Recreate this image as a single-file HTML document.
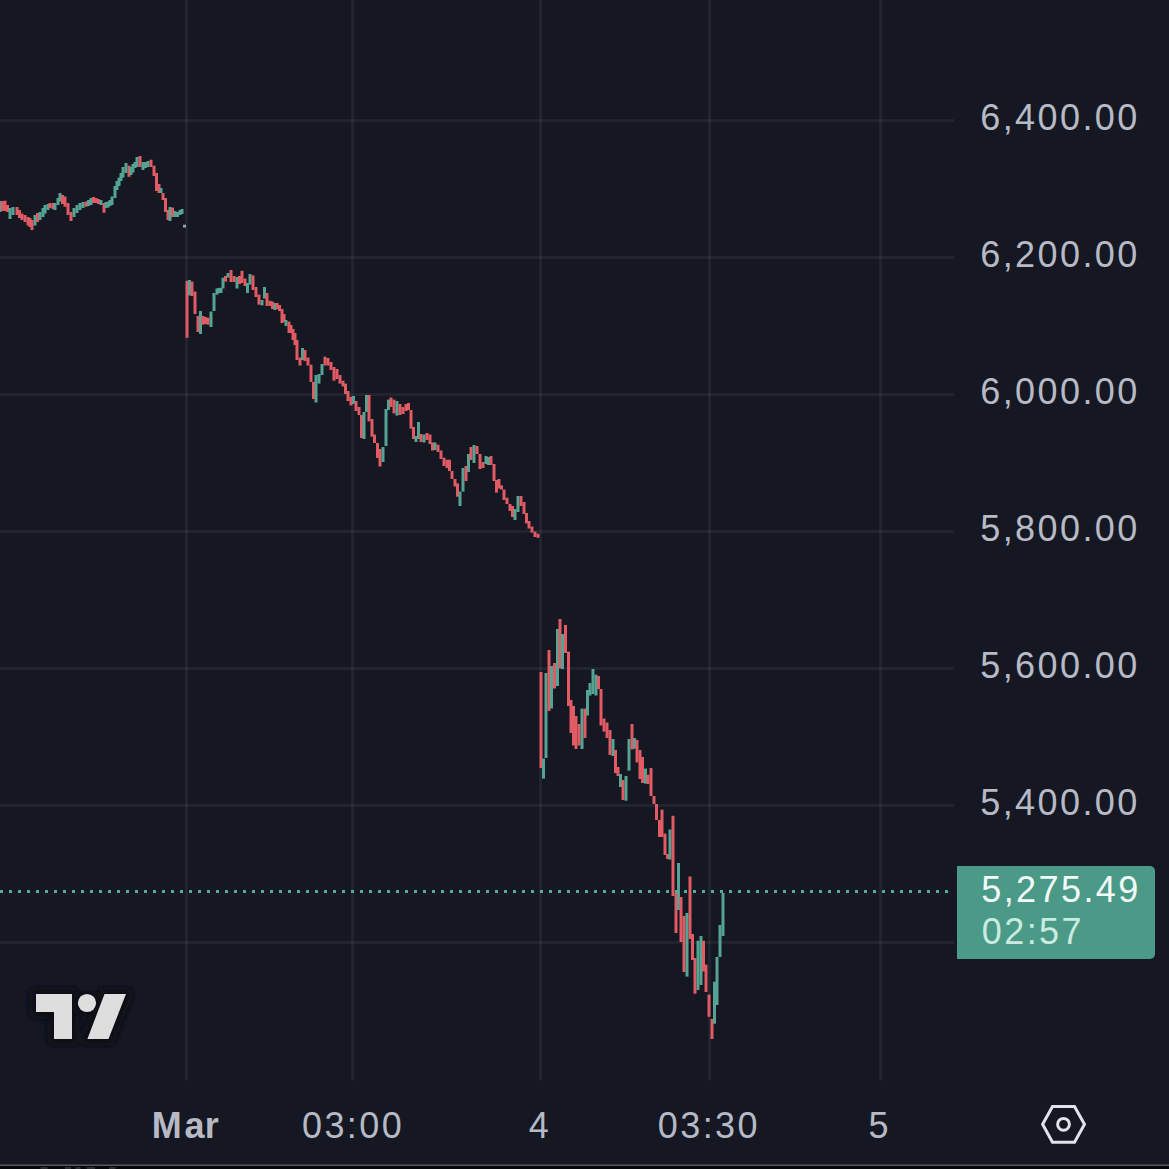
<!DOCTYPE html>
<html><head><meta charset="utf-8"><style>
html,body{margin:0;padding:0;background:#151823;width:1169px;height:1169px;overflow:hidden}
svg{display:block}
.t{font-family:"Liberation Sans",sans-serif;font-size:36px;letter-spacing:2.4px;fill:#b7bac5}
.b{font-weight:bold}
</style></head><body>
<svg width="1169" height="1169" viewBox="0 0 1169 1169">
<defs><filter id="bl" x="-20%" y="-20%" width="140%" height="140%"><feGaussianBlur stdDeviation="3"/></filter></defs>
<rect width="1169" height="1169" fill="#151823"/>
<rect x="185.2" y="0" width="2.6" height="1080.5" fill="#fff" fill-opacity="0.062"/>
<rect x="351.2" y="0" width="2.6" height="1080.5" fill="#fff" fill-opacity="0.062"/>
<rect x="539.2" y="0" width="2.6" height="1080.5" fill="#fff" fill-opacity="0.062"/>
<rect x="708.2" y="0" width="2.6" height="1080.5" fill="#fff" fill-opacity="0.062"/>
<rect x="879.2" y="0" width="2.6" height="1080.5" fill="#fff" fill-opacity="0.062"/>
<rect x="0" y="119.2" width="954" height="2.6" fill="#fff" fill-opacity="0.062"/>
<rect x="0" y="256.2" width="954" height="2.6" fill="#fff" fill-opacity="0.062"/>
<rect x="0" y="393.2" width="954" height="2.6" fill="#fff" fill-opacity="0.062"/>
<rect x="0" y="530.2" width="954" height="2.6" fill="#fff" fill-opacity="0.062"/>
<rect x="0" y="667.2" width="954" height="2.6" fill="#fff" fill-opacity="0.062"/>
<rect x="0" y="804.2" width="954" height="2.6" fill="#fff" fill-opacity="0.062"/>
<rect x="0" y="941.2" width="954" height="2.6" fill="#fff" fill-opacity="0.062"/>
<rect x="-1.50" y="201.0" width="3.0" height="11.0" fill="#55a392"/>
<rect x="1.00" y="201.0" width="3.0" height="10.0" fill="#e05b63"/>
<rect x="3.50" y="200.7" width="3.0" height="10.3" fill="#e05b63"/>
<rect x="6.00" y="205.0" width="3.0" height="7.0" fill="#e05b63"/>
<rect x="8.50" y="208.0" width="3.0" height="11.0" fill="#55a392"/>
<rect x="11.50" y="207.0" width="3.0" height="8.0" fill="#55a392"/>
<rect x="15.50" y="207.0" width="3.0" height="8.0" fill="#e05b63"/>
<rect x="18.00" y="210.0" width="3.0" height="8.0" fill="#e05b63"/>
<rect x="20.50" y="213.6" width="3.0" height="6.4" fill="#e05b63"/>
<rect x="23.50" y="215.0" width="3.0" height="7.0" fill="#e05b63"/>
<rect x="26.50" y="217.0" width="3.0" height="8.5" fill="#e05b63"/>
<rect x="28.50" y="218.0" width="3.0" height="9.0" fill="#e05b63"/>
<rect x="30.50" y="220.0" width="3.0" height="10.0" fill="#e05b63"/>
<rect x="33.50" y="215.0" width="3.0" height="10.5" fill="#55a392"/>
<rect x="36.00" y="213.0" width="3.0" height="9.0" fill="#e05b63"/>
<rect x="38.50" y="212.0" width="3.0" height="8.0" fill="#55a392"/>
<rect x="41.50" y="208.0" width="3.0" height="9.0" fill="#55a392"/>
<rect x="43.50" y="205.0" width="3.0" height="8.6" fill="#55a392"/>
<rect x="46.50" y="204.0" width="3.0" height="6.0" fill="#55a392"/>
<rect x="48.50" y="203.0" width="3.0" height="5.0" fill="#e05b63"/>
<rect x="51.50" y="203.0" width="3.0" height="6.0" fill="#e05b63"/>
<rect x="53.50" y="203.0" width="3.0" height="7.0" fill="#55a392"/>
<rect x="56.50" y="198.0" width="3.0" height="7.0" fill="#55a392"/>
<rect x="58.50" y="193.0" width="3.0" height="8.6" fill="#55a392"/>
<rect x="61.00" y="195.0" width="3.0" height="9.0" fill="#e05b63"/>
<rect x="63.50" y="196.5" width="3.0" height="10.2" fill="#e05b63"/>
<rect x="66.50" y="203.0" width="3.0" height="12.0" fill="#e05b63"/>
<rect x="69.50" y="212.0" width="3.0" height="9.0" fill="#e05b63"/>
<rect x="72.50" y="208.0" width="3.0" height="9.0" fill="#55a392"/>
<rect x="75.50" y="205.0" width="3.0" height="8.0" fill="#55a392"/>
<rect x="78.50" y="203.0" width="3.0" height="7.0" fill="#55a392"/>
<rect x="81.50" y="202.0" width="3.0" height="6.0" fill="#55a392"/>
<rect x="84.50" y="201.6" width="3.0" height="5.1" fill="#e05b63"/>
<rect x="87.00" y="200.0" width="3.0" height="6.0" fill="#55a392"/>
<rect x="89.50" y="198.0" width="3.0" height="7.0" fill="#55a392"/>
<rect x="92.00" y="197.0" width="3.0" height="6.0" fill="#e05b63"/>
<rect x="94.50" y="198.0" width="3.0" height="5.0" fill="#e05b63"/>
<rect x="97.00" y="199.0" width="3.0" height="5.0" fill="#e05b63"/>
<rect x="99.50" y="200.0" width="3.0" height="5.0" fill="#55a392"/>
<rect x="102.50" y="203.0" width="3.0" height="9.7" fill="#e05b63"/>
<rect x="104.50" y="202.0" width="3.0" height="6.0" fill="#55a392"/>
<rect x="106.50" y="201.6" width="3.0" height="6.0" fill="#55a392"/>
<rect x="108.50" y="200.0" width="3.0" height="6.0" fill="#55a392"/>
<rect x="110.50" y="196.5" width="3.0" height="8.5" fill="#55a392"/>
<rect x="113.50" y="186.0" width="3.0" height="12.0" fill="#55a392"/>
<rect x="115.50" y="181.0" width="3.0" height="9.0" fill="#55a392"/>
<rect x="117.50" y="177.6" width="3.0" height="8.4" fill="#55a392"/>
<rect x="119.50" y="173.0" width="3.0" height="8.0" fill="#55a392"/>
<rect x="121.50" y="167.0" width="3.0" height="10.6" fill="#55a392"/>
<rect x="124.50" y="163.0" width="3.0" height="10.0" fill="#55a392"/>
<rect x="127.50" y="165.7" width="3.0" height="11.1" fill="#e05b63"/>
<rect x="129.50" y="167.0" width="3.0" height="8.0" fill="#55a392"/>
<rect x="131.50" y="164.0" width="3.0" height="8.5" fill="#55a392"/>
<rect x="133.50" y="162.0" width="3.0" height="6.0" fill="#55a392"/>
<rect x="135.50" y="157.0" width="3.0" height="10.0" fill="#55a392"/>
<rect x="138.50" y="156.0" width="3.0" height="11.0" fill="#e05b63"/>
<rect x="141.50" y="162.0" width="3.0" height="8.0" fill="#55a392"/>
<rect x="144.00" y="162.0" width="3.0" height="6.0" fill="#55a392"/>
<rect x="146.50" y="161.0" width="3.0" height="6.0" fill="#55a392"/>
<rect x="149.50" y="159.7" width="3.0" height="7.3" fill="#e05b63"/>
<rect x="152.50" y="165.7" width="3.0" height="10.3" fill="#e05b63"/>
<rect x="155.00" y="173.0" width="3.0" height="18.0" fill="#e05b63"/>
<rect x="157.50" y="184.0" width="3.0" height="9.0" fill="#e05b63"/>
<rect x="159.50" y="188.0" width="3.0" height="5.0" fill="#55a392"/>
<rect x="161.50" y="193.0" width="3.0" height="7.0" fill="#e05b63"/>
<rect x="164.00" y="198.0" width="3.0" height="14.0" fill="#e05b63"/>
<rect x="166.50" y="210.0" width="3.0" height="10.0" fill="#e05b63"/>
<rect x="168.50" y="207.0" width="3.0" height="14.0" fill="#55a392"/>
<rect x="171.00" y="207.6" width="3.0" height="9.4" fill="#e05b63"/>
<rect x="173.50" y="211.0" width="3.0" height="6.0" fill="#55a392"/>
<rect x="176.00" y="212.0" width="3.0" height="5.0" fill="#55a392"/>
<rect x="178.50" y="210.0" width="3.0" height="5.0" fill="#55a392"/>
<rect x="180.50" y="209.0" width="3.0" height="5.0" fill="#55a392"/>
<rect x="183.00" y="224.7" width="3.0" height="2.8" fill="#9aa3a6"/>
<rect x="185.50" y="280.8" width="3.0" height="57.0" fill="#e05b63"/>
<rect x="188.00" y="280.0" width="3.0" height="15.4" fill="#55a392"/>
<rect x="190.50" y="281.6" width="3.0" height="14.4" fill="#e05b63"/>
<rect x="193.50" y="291.6" width="3.0" height="22.4" fill="#e05b63"/>
<rect x="196.50" y="316.0" width="3.0" height="16.0" fill="#e05b63"/>
<rect x="199.00" y="311.0" width="3.0" height="23.0" fill="#55a392"/>
<rect x="201.50" y="316.0" width="3.0" height="8.7" fill="#e05b63"/>
<rect x="204.00" y="317.0" width="3.0" height="7.0" fill="#e05b63"/>
<rect x="206.50" y="317.7" width="3.0" height="7.0" fill="#e05b63"/>
<rect x="209.50" y="311.6" width="3.0" height="15.4" fill="#55a392"/>
<rect x="212.50" y="293.0" width="3.0" height="18.0" fill="#55a392"/>
<rect x="215.50" y="288.5" width="3.0" height="6.1" fill="#55a392"/>
<rect x="217.50" y="288.0" width="3.0" height="5.0" fill="#55a392"/>
<rect x="219.50" y="287.7" width="3.0" height="5.3" fill="#55a392"/>
<rect x="221.50" y="277.7" width="3.0" height="10.8" fill="#55a392"/>
<rect x="224.00" y="276.0" width="3.0" height="5.6" fill="#e05b63"/>
<rect x="226.50" y="273.0" width="3.0" height="4.7" fill="#55a392"/>
<rect x="229.50" y="270.0" width="3.0" height="12.0" fill="#e05b63"/>
<rect x="232.50" y="276.0" width="3.0" height="6.0" fill="#e05b63"/>
<rect x="235.50" y="277.0" width="3.0" height="11.5" fill="#55a392"/>
<rect x="238.00" y="276.0" width="3.0" height="8.0" fill="#e05b63"/>
<rect x="240.50" y="270.8" width="3.0" height="12.2" fill="#e05b63"/>
<rect x="243.50" y="278.5" width="3.0" height="7.5" fill="#e05b63"/>
<rect x="246.00" y="283.0" width="3.0" height="10.0" fill="#55a392"/>
<rect x="248.50" y="274.0" width="3.0" height="10.6" fill="#55a392"/>
<rect x="251.50" y="275.4" width="3.0" height="14.6" fill="#e05b63"/>
<rect x="254.50" y="287.0" width="3.0" height="10.0" fill="#e05b63"/>
<rect x="257.50" y="294.6" width="3.0" height="10.1" fill="#e05b63"/>
<rect x="260.50" y="300.0" width="3.0" height="5.4" fill="#55a392"/>
<rect x="263.00" y="287.0" width="3.0" height="11.5" fill="#55a392"/>
<rect x="265.50" y="293.0" width="3.0" height="13.0" fill="#e05b63"/>
<rect x="268.50" y="300.8" width="3.0" height="5.2" fill="#e05b63"/>
<rect x="271.00" y="301.6" width="3.0" height="7.4" fill="#e05b63"/>
<rect x="273.50" y="303.0" width="3.0" height="7.0" fill="#55a392"/>
<rect x="275.50" y="303.0" width="3.0" height="6.0" fill="#e05b63"/>
<rect x="278.00" y="305.0" width="3.0" height="6.0" fill="#e05b63"/>
<rect x="280.50" y="309.0" width="3.0" height="14.0" fill="#e05b63"/>
<rect x="282.50" y="314.0" width="3.0" height="8.0" fill="#e05b63"/>
<rect x="284.50" y="320.0" width="3.0" height="6.0" fill="#55a392"/>
<rect x="287.50" y="321.6" width="3.0" height="11.4" fill="#e05b63"/>
<rect x="289.50" y="325.0" width="3.0" height="8.0" fill="#e05b63"/>
<rect x="291.50" y="329.0" width="3.0" height="11.0" fill="#e05b63"/>
<rect x="293.50" y="333.0" width="3.0" height="12.0" fill="#e05b63"/>
<rect x="295.50" y="340.0" width="3.0" height="20.0" fill="#e05b63"/>
<rect x="298.50" y="357.5" width="3.0" height="8.0" fill="#e05b63"/>
<rect x="301.00" y="348.0" width="3.0" height="12.0" fill="#55a392"/>
<rect x="303.50" y="350.0" width="3.0" height="11.0" fill="#e05b63"/>
<rect x="306.50" y="357.5" width="3.0" height="8.0" fill="#e05b63"/>
<rect x="309.50" y="364.7" width="3.0" height="17.3" fill="#e05b63"/>
<rect x="312.00" y="382.0" width="3.0" height="17.0" fill="#e05b63"/>
<rect x="314.50" y="375.0" width="3.0" height="27.5" fill="#55a392"/>
<rect x="317.50" y="374.0" width="3.0" height="9.6" fill="#55a392"/>
<rect x="320.50" y="364.0" width="3.0" height="11.0" fill="#55a392"/>
<rect x="323.50" y="356.7" width="3.0" height="8.8" fill="#e05b63"/>
<rect x="326.50" y="358.0" width="3.0" height="7.5" fill="#e05b63"/>
<rect x="329.50" y="362.0" width="3.0" height="8.0" fill="#e05b63"/>
<rect x="332.50" y="367.0" width="3.0" height="13.7" fill="#e05b63"/>
<rect x="335.50" y="369.0" width="3.0" height="10.0" fill="#e05b63"/>
<rect x="338.50" y="375.0" width="3.0" height="8.6" fill="#e05b63"/>
<rect x="341.50" y="380.7" width="3.0" height="5.8" fill="#e05b63"/>
<rect x="344.00" y="383.6" width="3.0" height="10.4" fill="#e05b63"/>
<rect x="346.50" y="391.0" width="3.0" height="10.0" fill="#e05b63"/>
<rect x="349.50" y="396.7" width="3.0" height="8.7" fill="#e05b63"/>
<rect x="352.00" y="396.0" width="3.0" height="8.0" fill="#55a392"/>
<rect x="354.50" y="401.0" width="3.0" height="10.0" fill="#e05b63"/>
<rect x="357.50" y="407.0" width="3.0" height="8.0" fill="#e05b63"/>
<rect x="360.00" y="415.0" width="3.0" height="23.0" fill="#e05b63"/>
<rect x="362.50" y="412.0" width="3.0" height="27.0" fill="#55a392"/>
<rect x="365.00" y="395.0" width="3.0" height="17.0" fill="#55a392"/>
<rect x="367.50" y="395.0" width="3.0" height="26.4" fill="#e05b63"/>
<rect x="370.50" y="419.0" width="3.0" height="17.7" fill="#e05b63"/>
<rect x="373.00" y="434.5" width="3.0" height="8.5" fill="#e05b63"/>
<rect x="376.00" y="443.0" width="3.0" height="15.0" fill="#e05b63"/>
<rect x="378.50" y="449.0" width="3.0" height="17.5" fill="#e05b63"/>
<rect x="381.50" y="447.0" width="3.0" height="15.0" fill="#55a392"/>
<rect x="384.50" y="409.0" width="3.0" height="37.0" fill="#55a392"/>
<rect x="387.00" y="399.6" width="3.0" height="10.4" fill="#55a392"/>
<rect x="389.50" y="397.5" width="3.0" height="9.5" fill="#e05b63"/>
<rect x="392.50" y="399.6" width="3.0" height="13.8" fill="#e05b63"/>
<rect x="395.50" y="401.0" width="3.0" height="14.6" fill="#55a392"/>
<rect x="398.50" y="404.0" width="3.0" height="11.0" fill="#e05b63"/>
<rect x="401.50" y="407.0" width="3.0" height="7.0" fill="#e05b63"/>
<rect x="404.50" y="404.0" width="3.0" height="7.0" fill="#e05b63"/>
<rect x="407.00" y="403.0" width="3.0" height="7.0" fill="#e05b63"/>
<rect x="409.50" y="410.0" width="3.0" height="18.7" fill="#e05b63"/>
<rect x="412.00" y="427.0" width="3.0" height="12.0" fill="#e05b63"/>
<rect x="414.50" y="436.0" width="3.0" height="6.0" fill="#55a392"/>
<rect x="417.00" y="422.0" width="3.0" height="17.0" fill="#55a392"/>
<rect x="419.50" y="434.0" width="3.0" height="8.0" fill="#e05b63"/>
<rect x="422.50" y="434.5" width="3.0" height="8.0" fill="#55a392"/>
<rect x="425.50" y="433.0" width="3.0" height="7.0" fill="#e05b63"/>
<rect x="428.50" y="434.5" width="3.0" height="9.5" fill="#e05b63"/>
<rect x="431.00" y="442.5" width="3.0" height="8.0" fill="#e05b63"/>
<rect x="433.50" y="442.5" width="3.0" height="7.5" fill="#55a392"/>
<rect x="436.50" y="444.7" width="3.0" height="7.3" fill="#e05b63"/>
<rect x="439.50" y="450.5" width="3.0" height="8.5" fill="#e05b63"/>
<rect x="442.50" y="457.7" width="3.0" height="8.3" fill="#e05b63"/>
<rect x="445.50" y="459.8" width="3.0" height="8.2" fill="#e05b63"/>
<rect x="448.00" y="459.8" width="3.0" height="11.2" fill="#e05b63"/>
<rect x="450.50" y="471.0" width="3.0" height="8.0" fill="#e05b63"/>
<rect x="453.50" y="479.0" width="3.0" height="7.5" fill="#e05b63"/>
<rect x="456.00" y="483.4" width="3.0" height="13.3" fill="#e05b63"/>
<rect x="458.50" y="491.6" width="3.0" height="14.4" fill="#55a392"/>
<rect x="461.50" y="468.0" width="3.0" height="23.6" fill="#55a392"/>
<rect x="464.50" y="466.0" width="3.0" height="15.0" fill="#e05b63"/>
<rect x="467.00" y="454.0" width="3.0" height="18.0" fill="#55a392"/>
<rect x="469.50" y="447.0" width="3.0" height="13.0" fill="#e05b63"/>
<rect x="472.50" y="445.0" width="3.0" height="18.0" fill="#55a392"/>
<rect x="475.50" y="446.0" width="3.0" height="8.0" fill="#e05b63"/>
<rect x="478.50" y="454.0" width="3.0" height="15.0" fill="#e05b63"/>
<rect x="481.50" y="462.0" width="3.0" height="6.0" fill="#e05b63"/>
<rect x="484.50" y="456.0" width="3.0" height="8.0" fill="#55a392"/>
<rect x="487.00" y="457.0" width="3.0" height="8.0" fill="#55a392"/>
<rect x="489.50" y="456.0" width="3.0" height="9.0" fill="#e05b63"/>
<rect x="492.50" y="464.0" width="3.0" height="17.0" fill="#e05b63"/>
<rect x="495.00" y="480.0" width="3.0" height="12.6" fill="#e05b63"/>
<rect x="497.50" y="479.0" width="3.0" height="9.5" fill="#e05b63"/>
<rect x="500.00" y="485.4" width="3.0" height="4.1" fill="#e05b63"/>
<rect x="502.50" y="489.5" width="3.0" height="10.5" fill="#e05b63"/>
<rect x="505.50" y="497.7" width="3.0" height="6.3" fill="#e05b63"/>
<rect x="508.50" y="504.0" width="3.0" height="7.0" fill="#e05b63"/>
<rect x="511.00" y="506.0" width="3.0" height="11.0" fill="#e05b63"/>
<rect x="513.50" y="509.0" width="3.0" height="11.0" fill="#55a392"/>
<rect x="516.50" y="496.0" width="3.0" height="16.0" fill="#55a392"/>
<rect x="519.50" y="496.0" width="3.0" height="10.0" fill="#e05b63"/>
<rect x="522.50" y="502.0" width="3.0" height="12.0" fill="#e05b63"/>
<rect x="525.00" y="513.0" width="3.0" height="10.4" fill="#e05b63"/>
<rect x="527.50" y="521.0" width="3.0" height="7.5" fill="#e05b63"/>
<rect x="530.50" y="526.5" width="3.0" height="6.1" fill="#e05b63"/>
<rect x="533.50" y="531.6" width="3.0" height="5.4" fill="#e05b63"/>
<rect x="536.50" y="533.7" width="3.0" height="4.1" fill="#e05b63"/>
<rect x="539.50" y="672.0" width="3.0" height="96.0" fill="#e05b63"/>
<rect x="542.00" y="758.6" width="3.0" height="20.0" fill="#55a392"/>
<rect x="544.50" y="673.0" width="3.0" height="85.0" fill="#55a392"/>
<rect x="547.50" y="650.0" width="3.0" height="61.0" fill="#e05b63"/>
<rect x="550.00" y="666.0" width="3.0" height="42.5" fill="#55a392"/>
<rect x="553.00" y="663.0" width="3.0" height="25.5" fill="#e05b63"/>
<rect x="556.00" y="629.0" width="3.0" height="57.0" fill="#55a392"/>
<rect x="558.50" y="619.0" width="3.0" height="49.5" fill="#e05b63"/>
<rect x="561.00" y="634.0" width="3.0" height="35.0" fill="#55a392"/>
<rect x="564.00" y="625.0" width="3.0" height="28.0" fill="#e05b63"/>
<rect x="567.00" y="651.6" width="3.0" height="54.4" fill="#e05b63"/>
<rect x="569.50" y="700.0" width="3.0" height="33.0" fill="#e05b63"/>
<rect x="572.00" y="706.0" width="3.0" height="39.5" fill="#e05b63"/>
<rect x="574.50" y="716.0" width="3.0" height="33.0" fill="#e05b63"/>
<rect x="577.50" y="724.0" width="3.0" height="21.5" fill="#e05b63"/>
<rect x="580.50" y="708.6" width="3.0" height="40.4" fill="#55a392"/>
<rect x="583.50" y="708.6" width="3.0" height="29.4" fill="#e05b63"/>
<rect x="586.00" y="690.0" width="3.0" height="25.5" fill="#55a392"/>
<rect x="588.50" y="683.0" width="3.0" height="12.5" fill="#55a392"/>
<rect x="591.50" y="669.0" width="3.0" height="25.0" fill="#55a392"/>
<rect x="594.50" y="674.7" width="3.0" height="20.8" fill="#55a392"/>
<rect x="597.00" y="676.0" width="3.0" height="13.0" fill="#e05b63"/>
<rect x="599.50" y="689.0" width="3.0" height="36.5" fill="#e05b63"/>
<rect x="602.50" y="718.6" width="3.0" height="13.0" fill="#e05b63"/>
<rect x="605.50" y="722.5" width="3.0" height="15.5" fill="#e05b63"/>
<rect x="608.50" y="730.0" width="3.0" height="25.0" fill="#e05b63"/>
<rect x="611.50" y="739.0" width="3.0" height="17.0" fill="#55a392"/>
<rect x="614.00" y="750.0" width="3.0" height="23.0" fill="#e05b63"/>
<rect x="616.50" y="767.0" width="3.0" height="9.0" fill="#e05b63"/>
<rect x="619.00" y="774.0" width="3.0" height="13.0" fill="#55a392"/>
<rect x="621.50" y="780.0" width="3.0" height="20.0" fill="#e05b63"/>
<rect x="624.50" y="776.0" width="3.0" height="24.7" fill="#55a392"/>
<rect x="627.50" y="739.0" width="3.0" height="31.6" fill="#55a392"/>
<rect x="630.50" y="724.0" width="3.0" height="25.4" fill="#e05b63"/>
<rect x="633.00" y="738.0" width="3.0" height="10.7" fill="#55a392"/>
<rect x="635.50" y="740.0" width="3.0" height="22.4" fill="#e05b63"/>
<rect x="638.50" y="750.0" width="3.0" height="29.0" fill="#e05b63"/>
<rect x="641.00" y="757.0" width="3.0" height="26.0" fill="#e05b63"/>
<rect x="644.00" y="768.6" width="3.0" height="15.0" fill="#55a392"/>
<rect x="646.50" y="774.7" width="3.0" height="9.3" fill="#e05b63"/>
<rect x="649.50" y="768.0" width="3.0" height="28.0" fill="#e05b63"/>
<rect x="652.50" y="796.0" width="3.0" height="8.0" fill="#e05b63"/>
<rect x="655.00" y="804.0" width="3.0" height="16.0" fill="#e05b63"/>
<rect x="658.00" y="820.0" width="3.0" height="17.0" fill="#e05b63"/>
<rect x="660.50" y="809.6" width="3.0" height="27.4" fill="#e05b63"/>
<rect x="663.50" y="833.6" width="3.0" height="21.4" fill="#e05b63"/>
<rect x="666.00" y="854.0" width="3.0" height="5.0" fill="#e05b63"/>
<rect x="668.50" y="829.5" width="3.0" height="30.1" fill="#55a392"/>
<rect x="671.50" y="815.8" width="3.0" height="80.2" fill="#e05b63"/>
<rect x="674.50" y="893.0" width="3.0" height="40.0" fill="#e05b63"/>
<rect x="677.00" y="863.0" width="3.0" height="47.0" fill="#55a392"/>
<rect x="679.50" y="897.0" width="3.0" height="45.0" fill="#e05b63"/>
<rect x="682.50" y="916.0" width="3.0" height="56.0" fill="#e05b63"/>
<rect x="685.50" y="913.0" width="3.0" height="63.6" fill="#55a392"/>
<rect x="688.50" y="876.5" width="3.0" height="62.5" fill="#e05b63"/>
<rect x="691.00" y="934.0" width="3.0" height="26.0" fill="#e05b63"/>
<rect x="693.50" y="958.0" width="3.0" height="35.7" fill="#e05b63"/>
<rect x="696.50" y="940.7" width="3.0" height="49.3" fill="#55a392"/>
<rect x="699.50" y="936.0" width="3.0" height="49.0" fill="#55a392"/>
<rect x="702.00" y="940.7" width="3.0" height="30.8" fill="#e05b63"/>
<rect x="704.50" y="964.6" width="3.0" height="27.4" fill="#e05b63"/>
<rect x="707.50" y="994.6" width="3.0" height="22.2" fill="#e05b63"/>
<rect x="710.50" y="1019.0" width="3.0" height="20.0" fill="#e05b63"/>
<rect x="713.00" y="981.7" width="3.0" height="42.0" fill="#55a392"/>
<rect x="715.50" y="957.0" width="3.0" height="48.0" fill="#55a392"/>
<rect x="718.50" y="925.0" width="3.0" height="32.0" fill="#55a392"/>
<rect x="721.50" y="893.0" width="3.0" height="43.0" fill="#55a392"/>
<path d="M0 890h3v3h-3zM9 890h3v3h-3zM18 890h3v3h-3zM27 890h3v3h-3zM36 890h3v3h-3zM45 890h3v3h-3zM54 890h3v3h-3zM63 890h3v3h-3zM72 890h3v3h-3zM81 890h3v3h-3zM90 890h3v3h-3zM99 890h3v3h-3zM108 890h3v3h-3zM117 890h3v3h-3zM126 890h3v3h-3zM135 890h3v3h-3zM144 890h3v3h-3zM153 890h3v3h-3zM162 890h3v3h-3zM171 890h3v3h-3zM180 890h3v3h-3zM189 890h3v3h-3zM198 890h3v3h-3zM207 890h3v3h-3zM216 890h3v3h-3zM225 890h3v3h-3zM234 890h3v3h-3zM243 890h3v3h-3zM252 890h3v3h-3zM261 890h3v3h-3zM270 890h3v3h-3zM279 890h3v3h-3zM288 890h3v3h-3zM297 890h3v3h-3zM306 890h3v3h-3zM315 890h3v3h-3zM324 890h3v3h-3zM333 890h3v3h-3zM342 890h3v3h-3zM351 890h3v3h-3zM360 890h3v3h-3zM369 890h3v3h-3zM378 890h3v3h-3zM387 890h3v3h-3zM396 890h3v3h-3zM405 890h3v3h-3zM414 890h3v3h-3zM423 890h3v3h-3zM432 890h3v3h-3zM441 890h3v3h-3zM450 890h3v3h-3zM459 890h3v3h-3zM468 890h3v3h-3zM477 890h3v3h-3zM486 890h3v3h-3zM495 890h3v3h-3zM504 890h3v3h-3zM513 890h3v3h-3zM522 890h3v3h-3zM531 890h3v3h-3zM540 890h3v3h-3zM549 890h3v3h-3zM558 890h3v3h-3zM567 890h3v3h-3zM576 890h3v3h-3zM585 890h3v3h-3zM594 890h3v3h-3zM603 890h3v3h-3zM612 890h3v3h-3zM621 890h3v3h-3zM630 890h3v3h-3zM639 890h3v3h-3zM648 890h3v3h-3zM657 890h3v3h-3zM666 890h3v3h-3zM675 890h3v3h-3zM684 890h3v3h-3zM693 890h3v3h-3zM702 890h3v3h-3zM711 890h3v3h-3zM720 890h3v3h-3zM729 890h3v3h-3zM738 890h3v3h-3zM747 890h3v3h-3zM756 890h3v3h-3zM765 890h3v3h-3zM774 890h3v3h-3zM783 890h3v3h-3zM792 890h3v3h-3zM801 890h3v3h-3zM810 890h3v3h-3zM819 890h3v3h-3zM828 890h3v3h-3zM837 890h3v3h-3zM846 890h3v3h-3zM855 890h3v3h-3zM864 890h3v3h-3zM873 890h3v3h-3zM882 890h3v3h-3zM891 890h3v3h-3zM900 890h3v3h-3zM909 890h3v3h-3zM918 890h3v3h-3zM927 890h3v3h-3zM936 890h3v3h-3zM945 890h3v3h-3z" fill="#5aa897"/>
<text x="980.3" y="129.6" class="t">6,400.00</text>
<text x="980.3" y="266.6" class="t">6,200.00</text>
<text x="980.3" y="403.6" class="t">6,000.00</text>
<text x="980.3" y="540.6" class="t">5,800.00</text>
<text x="980.3" y="677.6" class="t">5,600.00</text>
<text x="980.3" y="814.6" class="t">5,400.00</text>
<path d="M957 866H1150a5 5 0 0 1 5 5V954a5 5 0 0 1 -5 5H957z" fill="#4a9a87"/>
<text x="981.3" y="901.5" class="t" style="fill:#f2fbf7">5,275.49</text>
<text x="981.8" y="943.7" class="t" style="fill:#c9ebe0">02:57</text>
<text x="151.7 184.4 204.8" y="1138" class="t b" style="letter-spacing:0">Mar</text>
<text x="302" y="1138.2" class="t">03:00</text>
<text x="528.7" y="1138.2" class="t">4</text>
<text x="657.8" y="1138.2" class="t">03:30</text>
<text x="868.5" y="1138.2" class="t">5</text>
<g><path d="M36 994H72V1039H54V1012H36Z M104.5 994H126L108.5 1039H87.4Z" fill="#0d0e12" stroke="#0d0e12" stroke-width="13" stroke-linejoin="round" filter="url(#bl)"/><circle cx="87" cy="1003" r="9.1" fill="#0d0e12" stroke="#0d0e12" stroke-width="13" filter="url(#bl)"/><path d="M36 994H72V1039H54V1012H36Z M104.5 994H126L108.5 1039H87.4Z" fill="#dedede"/><circle cx="87" cy="1003" r="9.1" fill="#dedede"/></g>
<path d="M1052.5 1106.4H1074.5L1084.5 1124.3L1074.5 1142.3H1052.5L1042.6 1124.3Z" fill="none" stroke="#e1e3ea" stroke-width="3" stroke-linejoin="miter"/>
<circle cx="1063.5" cy="1124.3" r="5.9" fill="none" stroke="#e1e3ea" stroke-width="3"/>
<rect x="0" y="1164.6" width="1169" height="1.3" fill="#6a6d75"/>
<rect x="0" y="1165.9" width="1169" height="4" fill="#060709"/>
<rect x="40.5" y="1167" width="7.2" height="2" fill="#2a2b30"/>
<rect x="65" y="1167" width="6.0" height="2" fill="#2a2b30"/>
<rect x="75.4" y="1167" width="5.2" height="2" fill="#2a2b30"/>
<rect x="86.7" y="1167" width="8.3" height="2" fill="#2a2b30"/>
<rect x="109" y="1167" width="6.5" height="2" fill="#2a2b30"/>
</svg>
</body></html>
